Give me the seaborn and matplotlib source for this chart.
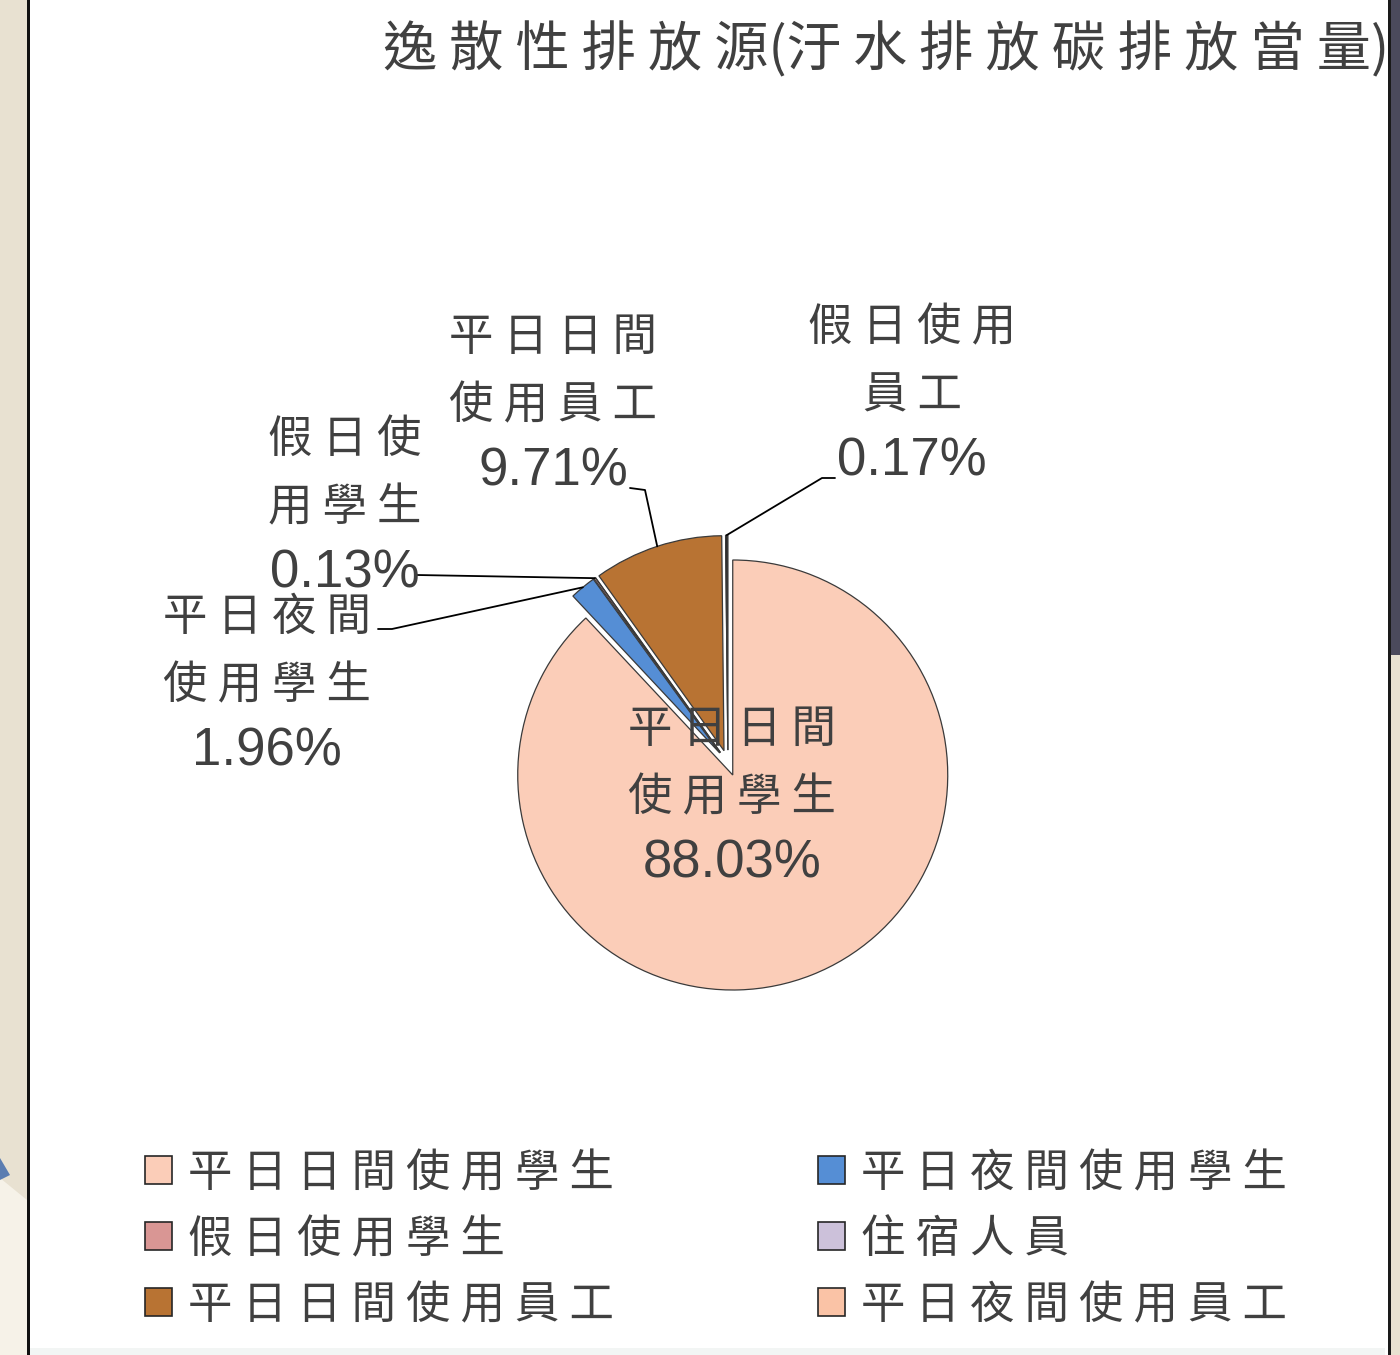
import numpy as np
import matplotlib
matplotlib.use("Agg")
import matplotlib.pyplot as plt
import matplotlib.patches as mpatches
from matplotlib.font_manager import FontProperties
import seaborn as sns

# data
categories = ['平日日間使用學生', '平日夜間使用學生', '假日使用學生', '住宿人員',
              '平日日間使用員工', '平日夜間使用員工', '假日使用員工']
shares = [88.03, 1.96, 0.13, 0.0, 9.71, 0.0, 0.17]
colors = ['#FBCDB8', '#558ED5', '#D99694', '#CCC1DA', '#B87333', '#FAC3A6', '#262626']
title = '逸散性排放源(汙水排放碳排放當量)'

sns.set_theme(style='white')
cjk = ['Noto Sans CJK TC', 'DejaVu Sans']
latin = ['Liberation Sans', 'DejaVu Sans']
txt_color = '#404040'

W, H = 1400, 1355
fig = plt.figure(figsize=(W / 100, H / 100), dpi=100)
fig.patch.set_facecolor('white')


def fbox(x, y):
    # pixel (from top-left) -> figure fraction
    return x / W, 1 - y / H


def spaced(s):
    return ' '.join(s)


# screenshot frame bits around the chart
def frect(x0, y0, x1, y1, color):
    fig.add_artist(mpatches.Rectangle(fbox(x0, y1), (x1 - x0) / W, (y1 - y0) / H,
                                      transform=fig.transFigure, color=color, lw=0, zorder=0))


frect(0, 0, 27, H, '#E8E1D1')
fig.add_artist(mpatches.Polygon([fbox(0, 1178), fbox(27, 1200), fbox(27, H), fbox(0, H)],
                                transform=fig.transFigure, color='#F6F2E8', lw=0, zorder=0))
fig.add_artist(mpatches.Polygon([fbox(0, 1158), fbox(10, 1175), fbox(0, 1180)],
                                transform=fig.transFigure, color='#5B7DB1', lw=0, zorder=0))
frect(27, 0, 30, H, '#111111')
frect(1391, 0, W, 655, '#4B4A5C')
frect(1391, 655, W, H, '#E8E1D1')
frect(1388, 0, 1391, H, '#1A1A1A')
frect(30, 1348, 1385, H, '#F2F5F4')

# pie axes: origin at pixel (728, 763), 215 px per unit
ox, oy, scale = 728, 763, 215
ax_l, ax_r, ax_t, ax_b = 30, 1388, 95, 1130
ax = fig.add_axes([ax_l / W, 1 - ax_b / H, (ax_r - ax_l) / W, (ax_b - ax_t) / H])


def pdata(x, y):
    return (x - ox) / scale, (oy - y) / scale


wedges, _ = ax.pie(shares, colors=colors, startangle=90, counterclock=False,
                   explode=[0.06] * len(shares), radius=1,
                   wedgeprops=dict(edgecolor='#3A3A3A', linewidth=0.9))
ax.set_xlim((ax_l - ox) / scale, (ax_r - ox) / scale)
ax.set_ylim((oy - ax_b) / scale, (oy - ax_t) / scale)
ax.set_aspect('auto')
ax.axis('off')

# label layout: index -> (chars per line, center x, first line y, leader path in px)
label_layout = {
    0: (4, 732, 729, None),
    1: (4, 267, 617, [(378, 629), (392, 629)]),
    2: (3, 345, 439, [(417, 575)]),
    4: (4, 553, 337, [(630, 488), (645, 490)]),
    6: (4, 912, 327, [(835, 478), (822, 478)]),
}
for i, (n, cx, cy, path) in label_layout.items():
    name = categories[i]
    lines = [name[k:k + n] for k in range(0, len(name), n)]
    for j, ln in enumerate(lines):
        x, y = pdata(cx, cy + 68 * j)
        ax.text(x, y, spaced(ln), ha='center', va='center', fontsize=32,
                family=cjk, color=txt_color, zorder=5)
    x, y = pdata(cx, cy + 68 * len(lines) - 1)
    ax.text(x, y, f'{shares[i]:.2f}%', ha='center', va='center', fontsize=38,
            family=latin, color=txt_color, zorder=5)
    if path:
        w = wedges[i]
        mid = np.deg2rad((w.theta1 + w.theta2) / 2)
        ex = w.center[0] + w.r * np.cos(mid)
        ey = w.center[1] + w.r * np.sin(mid)
        pts = [pdata(px, py) for px, py in path] + [(ex, ey)]
        ax.plot([p[0] for p in pts], [p[1] for p in pts], color='black', lw=1.3, zorder=4)

fig.text(*fbox(383, 50), spaced(title).replace(' (', '(').replace('( ', '(').replace(' )', ')'),
         ha='left', va='center', fontsize=39, family=cjk, color=txt_color)

# legend, filled row by row (two columns), last category left out as in the original
order = [0, 2, 4, 1, 3, 5]
handles = [mpatches.Patch(facecolor=colors[i], edgecolor='#262626', linewidth=1.2) for i in order]
labels = [spaced(categories[i]) for i in order]
fig.legend(handles, labels, loc='upper left', bbox_to_anchor=fbox(145, 1150), ncol=2,
           frameon=False, prop=FontProperties(family=cjk, size=32), labelcolor=txt_color,
           handlelength=0.6, handleheight=0.6, handletextpad=0.36, columnspacing=4.6,
           labelspacing=0.45, borderpad=0, borderaxespad=0)

fig.savefig('out.png', dpi=100)
